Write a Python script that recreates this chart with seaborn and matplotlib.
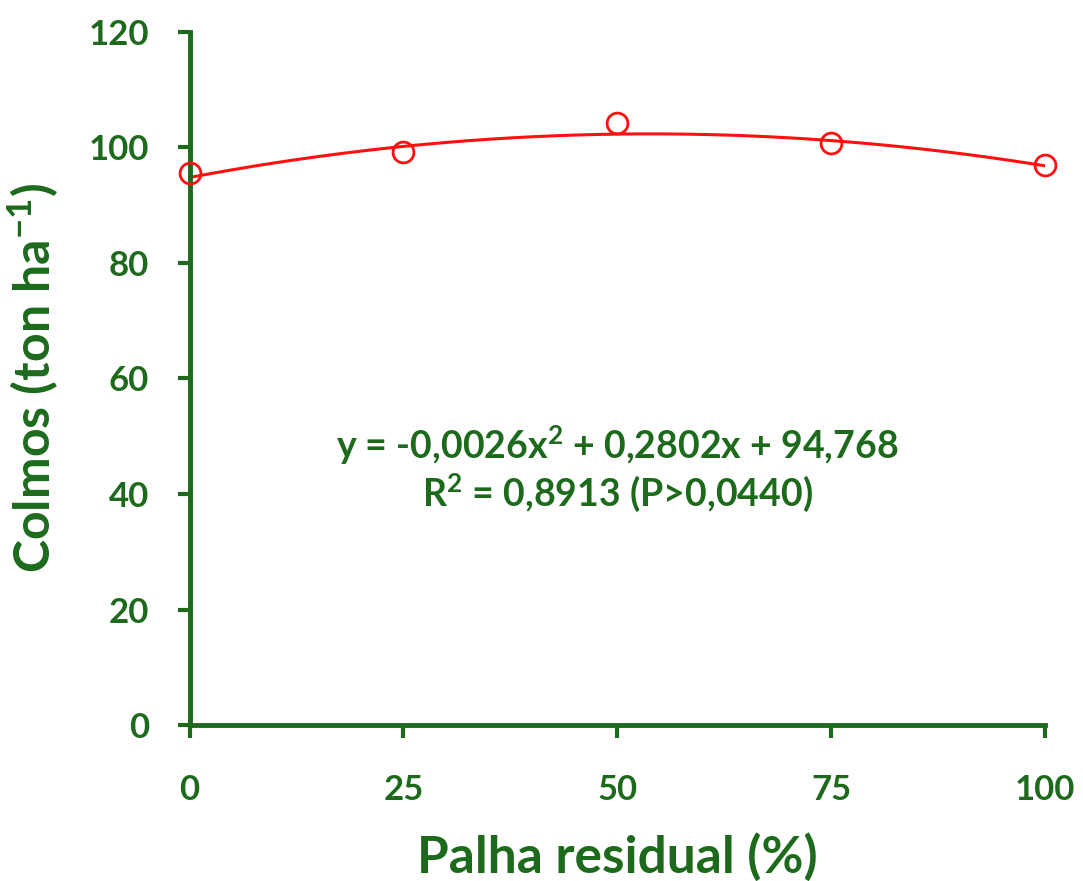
import numpy as np
import pandas as pd
import matplotlib
matplotlib.use("Agg")
import matplotlib.pyplot as plt
import seaborn as sns

# Observed stalk yield per residual straw level
palha = [0, 25, 50, 75, 100]
colmos = [95.6, 99.1, 104.2, 100.7, 97.0]

# Quadratic regression coefficients (a*x^2 + b*x + c)
coef_a, coef_b, coef_c = -0.0026, 0.2802, 94.768
r2_text = "R$^2$ = 0,8913 (P>0,0440)"
eq_text = "y = -0,0026x$^2$ + 0,2802x + 94,768"

x_ticks = [0, 25, 50, 75, 100]
y_ticks = [0, 20, 40, 60, 80, 100, 120]

GREEN = "#1d6a1d"
RED = "#ff1010"

sns.set_theme(style="white")
plt.rcParams["font.family"] = ["Lato", "DejaVu Sans"]
plt.rcParams["mathtext.fontset"] = "custom"
plt.rcParams["mathtext.rm"] = "Lato:bold"
plt.rcParams["mathtext.default"] = "rm"

fig = plt.figure(figsize=(10.83, 8.81), dpi=100)
ax = fig.add_axes([0.175, 0.177, 0.79, 0.787])

xs = np.linspace(0, 100, 200)
fit = pd.DataFrame({"x": xs, "y": coef_a * xs**2 + coef_b * xs + coef_c})
obs = pd.DataFrame({"x": palha, "y": colmos})

sns.lineplot(data=fit, x="x", y="y", ax=ax, color=RED, linewidth=2.2)
ax.plot(obs["x"], obs["y"], linestyle="none", marker="o", markersize=15,
        markerfacecolor="none", markeredgecolor=RED, markeredgewidth=2.0,
        clip_on=False, zorder=5)

ax.set_xlim(0, 100)
ax.set_ylim(0, 120)
ax.set_xticks(x_ticks)
ax.set_yticks(y_ticks)
ax.set_xticklabels([str(t) for t in x_ticks], fontsize=25, fontweight="bold", color=GREEN)
ax.set_yticklabels([str(t) for t in y_ticks], fontsize=25, fontweight="bold", color=GREEN)
ax.tick_params(axis="both", direction="out", length=9, width=3, color=GREEN,
               bottom=True, left=True)
ax.tick_params(axis="y", pad=20)
ax.tick_params(axis="x", pad=26)

for side in ["top", "right"]:
    ax.spines[side].set_visible(False)
for side in ["left", "bottom"]:
    ax.spines[side].set_color(GREEN)
    ax.spines[side].set_linewidth(3.5)

ax.set_xlabel("Palha residual (%)", fontsize=37, fontweight="bold", color=GREEN, labelpad=20)
ax.set_ylabel("Colmos (ton ha$^{-1}$)", fontsize=36, fontweight="bold", color=GREEN, labelpad=20)

ax.text(50, 48.5, eq_text, ha="center", va="center", fontsize=27,
        fontweight="bold", color=GREEN)
ax.text(50, 40.2, r2_text, ha="center", va="center", fontsize=27,
        fontweight="bold", color=GREEN)

ax.grid(False)
fig.savefig("out.png", dpi=100, facecolor="white")
